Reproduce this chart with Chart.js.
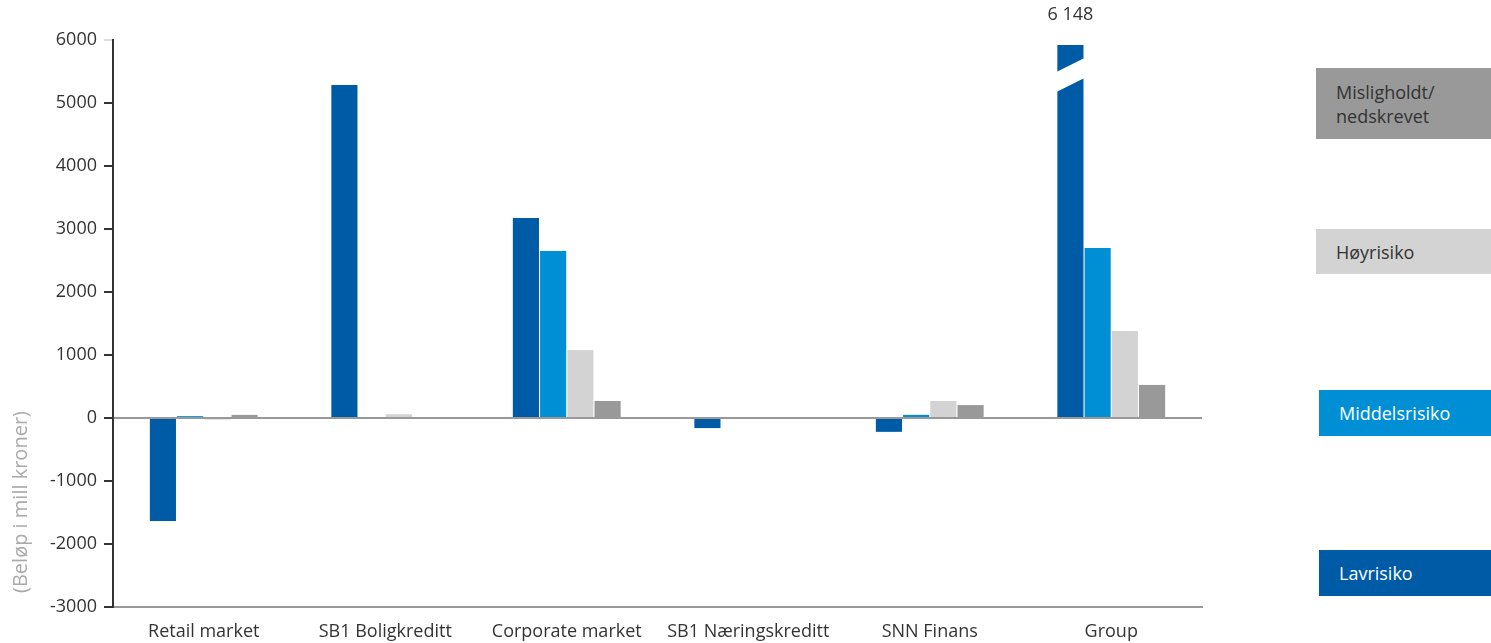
<!DOCTYPE html>
<html lang="no">
<head>
<meta charset="UTF-8">
<title>Risikoklasser</title>
<script src="https://cdn.jsdelivr.net/npm/chart.js@4.4.1/dist/chart.umd.min.js"></script>
<style>
    body { margin: 0; background: #fff; font-family: "Open Sans", sans-serif; }
    #wrap { position: relative; width: 1491px; height: 643px; }
    canvas { position: absolute; left: 0; top: 0; }
    .leg {
        position: absolute;
        left: 1316px;
        width: 175px;
        box-sizing: border-box;
        padding-left: 20px;
        font-size: 18px;
        display: flex;
        align-items: center;
        line-height: 24px;
    }
</style>
</head>
<body>
<div id="wrap">
    <canvas id="chart" width="1491" height="643"></canvas>
    <div class="leg" style="top:68px;height:71px;background:#999999;color:#333;">Misligholdt/<br>nedskrevet</div>
    <div class="leg" style="top:229px;height:45px;background:#d3d3d3;color:#333;">Høyrisiko</div>
    <div class="leg" style="top:390px;height:46px;left:1319px;width:172px;background:#008fd5;color:#fff;">Middelsrisiko</div>
    <div class="leg" style="top:550px;height:46px;left:1319px;width:172px;background:#005ba6;color:#fff;">Lavrisiko</div>
</div>
<script>
    // categories and series (mill kroner)
    const categories = ['Retail market', 'SB1 Boligkreditt', 'Corporate market', 'SB1 Næringskreditt', 'SNN Finans', 'Group'];
    const lavrisiko = [-1635, 5285, 3175, -160, -220, 6148];
    const middelsrisiko = [30, -15, 2650, 0, 50, 2700];
    const hoyrisiko = [-25, 60, 1080, 0, 270, 1380];
    const misligholdt = [50, -10, 270, 0, 205, 525];
    const yTicks = [6000, 5000, 4000, 3000, 2000, 1000, 0, -1000, -2000, -3000];

    const fontFamily = '"Open Sans", sans-serif';

    // break mark + value label on the cut Group bar, and the y-axis title
    const extrasPlugin = {
        id: 'extras',
        afterDatasetsDraw(chart) {
            const ctx = chart.ctx;
            const area = chart.chartArea;
            const meta = chart.getDatasetMeta(0);
            const idx = categories.length - 1;
            const bar = meta.data[idx];
            const x0 = bar.x - bar.width / 2;
            const x1 = bar.x + bar.width / 2;
            ctx.save();
            // trim top of cut bar a little
            ctx.fillStyle = '#fff';
            ctx.fillRect(x0 - 1, area.top - 2, bar.width + 2, 7);
            // white slanted break
            ctx.beginPath();
            ctx.moveTo(x0 - 1, 72);
            ctx.lineTo(x1 + 1, 58);
            ctx.lineTo(x1 + 1, 78);
            ctx.lineTo(x0 - 1, 92);
            ctx.closePath();
            ctx.fill();
            // value label
            const v = lavrisiko[idx];
            const txt = String(v).replace(/\B(?=(\d{3})+(?!\d))/g, ' ');
            ctx.fillStyle = '#333';
            ctx.font = '18px ' + fontFamily;
            ctx.textAlign = 'center';
            ctx.textBaseline = 'middle';
            ctx.fillText(txt, bar.x, 15);
            ctx.restore();
        },
        afterDraw(chart) {
            const ctx = chart.ctx;
            ctx.save();
            ctx.translate(21, 502);
            ctx.rotate(-Math.PI / 2);
            ctx.fillStyle = '#aaaaaa';
            ctx.font = '20px ' + fontFamily;
            ctx.textAlign = 'center';
            ctx.textBaseline = 'middle';
            ctx.fillText('(Beløp i mill kroner)', 0, 0);
            ctx.restore();
        }
    };

    const commonBar = { categoryPercentage: 0.6, barPercentage: 0.96, borderWidth: 0 };

    new Chart(document.getElementById('chart'), {
        type: 'bar',
        data: {
            labels: categories,
            datasets: [
                { label: 'Lavrisiko', data: lavrisiko, backgroundColor: '#005ba6', ...commonBar },
                { label: 'Middelsrisiko', data: middelsrisiko, backgroundColor: '#008fd5', ...commonBar },
                { label: 'Høyrisiko', data: hoyrisiko, backgroundColor: '#d3d3d3', ...commonBar },
                { label: 'Misligholdt/nedskrevet', data: misligholdt, backgroundColor: '#999999', ...commonBar }
            ]
        },
        options: {
            responsive: false,
            animation: false,
            layout: { padding: { top: 40, right: 289, bottom: 0, left: 0 } },
            plugins: {
                legend: { display: false },
                tooltip: { enabled: false }
            },
            scales: {
                x: {
                    grid: { display: false },
                    border: { color: '#999999', width: 2 },
                    ticks: { color: '#333', font: { family: fontFamily, size: 18 }, padding: 6, maxRotation: 0 },
                    afterFit(scale) { scale.height = 36; }
                },
                y: {
                    min: -3000,
                    max: 6000,
                    afterBuildTicks(scale) { scale.ticks = yTicks.map(v => ({ value: v })); },
                    grid: {
                        color: c => c.tick && c.tick.value === 0 ? '#999999' : 'rgba(0,0,0,0)',
                        lineWidth: 2,
                        drawTicks: true,
                        tickLength: 9,
                        tickColor: c => c.tick && c.tick.value === 6000 ? '#bbbbbb' : '#333',
                        tickWidth: c => c.tick && c.tick.value === 6000 ? 1 : 2
                    },
                    border: { color: '#333', width: 2 },
                    ticks: {
                        color: '#333',
                        font: { family: fontFamily, size: 18 },
                        padding: 7,
                        callback: v => String(v)
                    },
                    afterFit(scale) { scale.width = 113; }
                }
            }
        },
        plugins: [extrasPlugin]
    });
</script>
</body>
</html>
